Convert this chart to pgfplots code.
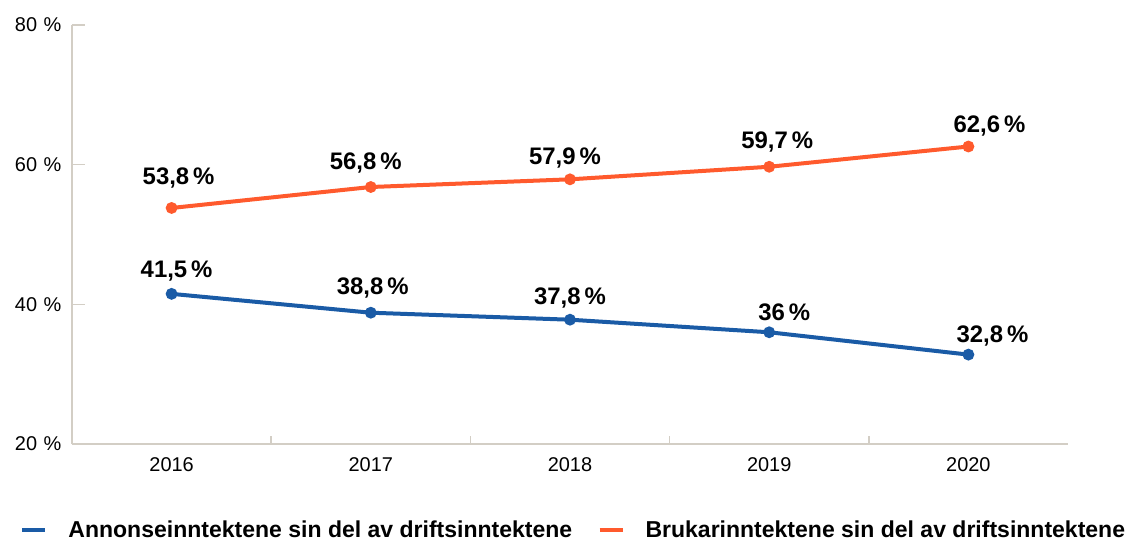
\documentclass[border=0pt]{standalone}
\usepackage{fontspec}
\setmainfont{Liberation Sans}
\usepackage{pgfplots}
\usepackage{pgfplotstable}
\pgfplotsset{compat=1.18}
\definecolor{blueline}{HTML}{1A5BA6}
\definecolor{orangeline}{HTML}{FF5A2D}
\definecolor{axcol}{HTML}{D3CEC5}

\pgfplotstableread{
x y dx dy
0 41.5 5 16
1 38.8 2 18
2 37.8 0 15
3 36.0 15 12
4 32.8 24 12
}\bluedata
\pgfplotstableread{
x y dx dy
0 53.8 7 23
1 56.8 -5 18
2 57.9 -5 15
3 59.7 8 18
4 62.6 21 14
}\orangedata

\begin{document}
\begin{tikzpicture}
\path[use as bounding box] (-72bp,-98bp) rectangle (1057bp,444bp);
\begin{axis}[
  scale only axis, width=996bp, height=419bp,
  at={(0,0)}, anchor=south west,
  xmin=-0.5, xmax=4.5, ymin=20, ymax=80,
  clip=false,
  axis x line=bottom, axis y line=left,
  axis line style={-, draw=axcol, line width=2bp},
  xtick={0.5,1.5,2.5,3.5}, xticklabels={},
  extra x ticks={0,1,2,3,4},
  extra x tick labels={2016,2017,2018,2019,2020},
  extra x tick style={major tick length=0pt, tick style={draw=none}},
  ytick=\empty,
  extra y ticks={20,40,60,80},
  extra y tick labels={20\,\,\%,40\,\,\%,60\,\,\%,80\,\,\%},
  extra y tick style={major tick length=13bp},
  /pgf/number format/assume math mode=true,
  tick label style={font=\fontsize{20}{23}\selectfont, text=black},
  tick align=inside,
  major tick length=8bp,
  every tick/.style={draw=axcol, line width=1.5bp},
  yticklabel style={xshift=-7bp},
  xticklabel style={yshift=-10bp},
  legend columns=2,
  legend style={at={(-0.0552,-0.205)}, anchor=west, draw=none, fill=none,
    font=\fontsize{23.1}{27}\selectfont\bfseries,
    /tikz/every even column/.append style={column sep=25bp},
    nodes={inner sep=0pt}},
  legend image code/.code={\draw[line width=4.5bp] (0bp,0bp) -- (23bp,0bp); \path (44bp,0bp);},
  nodes near coords={\pgfmathprintnumber[use comma,fixed,precision=1,assume math mode=true]{\pgfplotspointmeta}\,\%},
  every node near coord/.append style={font=\fontsize{24}{28}\selectfont\bfseries, text=black, anchor=base, inner sep=0pt, xshift=\dx bp, yshift=\dy bp},
  visualization depends on={\thisrow{dx}\as\dx},
  visualization depends on={\thisrow{dy}\as\dy},
  point meta=y,
]
\addplot[blueline, line width=4bp, mark=*, mark size=3.8bp, mark options={fill=blueline, draw=blueline}] table[x=x, y=y] {\bluedata};
\addlegendentry{Annonseinntektene sin del av driftsinntektene}
\addplot[orangeline, line width=4bp, mark=*, mark size=3.8bp, mark options={fill=orangeline, draw=orangeline}] table[x=x, y=y] {\orangedata};
\addlegendentry{Brukarinntektene sin del av driftsinntektene}
\end{axis}
\end{tikzpicture}
\end{document}
